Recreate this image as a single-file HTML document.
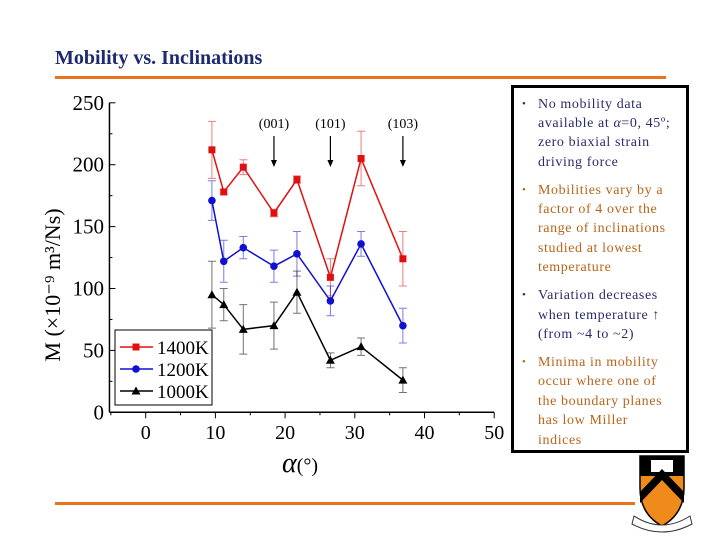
<!DOCTYPE html>
<html><head><meta charset="utf-8"><style>
body{margin:0;width:720px;height:540px;background:#fff;position:relative;overflow:hidden;font-family:"Liberation Serif",serif}
#title{position:absolute;left:55px;top:47px;font-size:20px;font-weight:bold;color:#1c2a6e}
.rule{position:absolute;background:#e8731e;height:3px}
#box{position:absolute;left:511px;top:85px;width:172px;height:362px;border:3px solid #000;background:#fff}
#box ul{margin:0;padding:0;list-style:none}
#box li{position:relative;padding-left:24px;font-size:14px;line-height:19.4px;margin-top:8.5px;letter-spacing:0.6px;white-space:nowrap}
#box li:before{content:"•";position:absolute;left:8px;font-size:11px}
.n{color:#2b2b6b}.o{color:#b8651a}
</style></head><body>
<div id="title">Mobility vs. Inclinations</div>
<div class="rule" style="left:55px;top:76px;width:611px"></div>
<div class="rule" style="left:55px;top:502px;width:580px"></div>
<svg id="chart" width="720" height="540" style="position:absolute;left:0;top:0"></svg>
<div id="box"><ul style="margin-top:-2px">
<li class="n">No mobility data<br>available at <i>α</i>=0, 45º;<br>zero biaxial strain<br>driving force</li>
<li class="o">Mobilities vary by a<br>factor of 4 over the<br>range of inclinations<br>studied at lowest<br>temperature</li>
<li class="n">Variation decreases<br>when temperature ↑<br>(from ~4 to ~2)</li>
<li class="o">Minima in mobility<br>occur where one of<br>the boundary planes<br>has low Miller<br>indices</li>
</ul></div>
<svg width="90" height="90" style="position:absolute;left:628px;top:448px">
<path d="M12,8 L56,8 L56,40 Q56,66 34,78 Q12,66 12,40 Z" fill="#f08a1a" stroke="#000" stroke-width="1.5"/>
<path d="M12,8 L56,8 L56,28 L12,28 Z" fill="#000"/>
<rect x="23" y="12" width="22" height="12" fill="#fff"/>
<path d="M12,55 L34,32 L56,55 L56,44 L34,21 L12,44 Z" fill="#000"/>
<path d="M6,68 Q34,86 62,68 L64,76 Q34,92 4,76 Z" fill="#fff" stroke="#333" stroke-width="1"/>
</svg>
<script>
const xs=[9.5,11.2,14.0,18.4,21.7,26.5,30.9,36.9];
const red=[212,178,198,161,188,109,205,124];
const redErr=[23,2,6,3,3,15,22,22];
const blue=[171,122,133,118,128,90,136,70];
const blueErr=[16,17,9,13,18,12,10,14];
const black=[95,87,67,70,97,42,53,26];
const blackErr=[27,13,20,19,17,6,7,10];
const xTicks=[0,10,20,30,40,50];
const yTicks=[0,50,100,150,200,250];
const arrows=[{a:18.4,l:"(001)"},{a:26.5,l:"(101)"},{a:36.9,l:"(103)"}];
const svg=document.getElementById('chart');
const NS='http://www.w3.org/2000/svg';
const X=v=>145.7+v*6.97, Y=v=>412.3-v*1.238;
function mk(t,a,p){const e=document.createElementNS(NS,t);for(const k in a)e.setAttribute(k,a[k]);(p||svg).appendChild(e);return e;}
let ax=mk('line',{x1:X(-5.2),y1:Y(0),x2:X(50),y2:Y(0),stroke:'#000','stroke-width':1.5});

let ay=mk('line',{x1:X(-5.2),y1:Y(0),x2:X(-5.2),y2:Y(250),stroke:'#000','stroke-width':1.5});

for(let v=-5;v<=50;v+=5){mk('line',{x1:X(v),y1:Y(0),x2:X(v),y2:Y(0)+(v%10==0?6:3),stroke:'#000'});}
xTicks.forEach(v=>{let t=mk('text',{x:X(v),y:439,'font-size':20,'text-anchor':'middle','font-family':'Liberation Serif'});t.textContent=v;
});
for(let v=0;v<=250;v+=25){mk('line',{x1:X(-5.2),y1:Y(v),x2:X(-5.2)+(v%50==0?6:3),y2:Y(v),stroke:'#000'});}
yTicks.forEach(v=>{let t=mk('text',{x:104,y:Y(v)+7,'font-size':21,'text-anchor':'end','font-family':'Liberation Serif'});t.textContent=v;
});
let xl=mk('text',{x:300,y:472,'font-size':28,'text-anchor':'middle','font-family':'Liberation Serif'});xl.innerHTML='<tspan font-style="italic">α</tspan><tspan font-size="20">(°)</tspan>';

let yl=mk('text',{x:0,y:0,'font-size':22,'text-anchor':'middle','font-family':'Liberation Serif',transform:'translate(60,285) rotate(-90)'});yl.textContent='M (×10⁻⁹ m³/Ns)';

arrows.forEach(a=>{let t=mk('text',{x:X(a.a),y:128,'font-size':14,'text-anchor':'middle','font-family':'Liberation Serif'});t.textContent=a.l;

let l=mk('line',{x1:X(a.a),y1:136,x2:X(a.a),y2:164,stroke:'#000','stroke-width':1.2});

mk('path',{d:`M${X(a.a)-3},160 L${X(a.a)+3},160 L${X(a.a)},167 Z`,fill:'#000'});});
function series(vals,errs,col,shape,name){
 const g=mk('g',{});
 vals.forEach((v,i)=>{let e=mk('path',{d:`M${X(xs[i])},${Y(v-errs[i])}V${Y(v+errs[i])}M${X(xs[i])-4},${Y(v-errs[i])}h8M${X(xs[i])-4},${Y(v+errs[i])}h8`,stroke:col,'stroke-opacity':0.55,fill:'none'},g);
 });
 let p=mk('polyline',{points:vals.map((v,i)=>X(xs[i])+','+Y(v)).join(' '),fill:'none',stroke:col,'stroke-width':1.5},g);
 
 vals.forEach((v,i)=>{let m=marker(X(xs[i]),Y(v),col,shape,g);});
}
function marker(x,y,col,shape,g){
 if(shape=='s')return mk('rect',{x:x-3.5,y:y-3.5,width:7,height:7,fill:col},g);
 if(shape=='c')return mk('circle',{cx:x,cy:y,r:3.8,fill:col},g);
 return mk('path',{d:`M${x},${y-4.5}L${x+4.5},${y+3.5}L${x-4.5},${y+3.5}Z`,fill:col},g);
}
series(red,redErr,'#e01010','s','series-1400k');
series(blue,blueErr,'#1010d0','c','series-1200k');
series(black,blackErr,'#000','t','series-1000k');
const lg=mk('g',{});
mk('rect',{x:115,y:330,width:97,height:75,fill:'#fff',stroke:'#000'},lg);
[['1400K','#e01010','s'],['1200K','#1010d0','c'],['1000K','#000','t']].forEach((d,i)=>{
 const y=347+i*22;const it=mk('g',{},lg);
 mk('line',{x1:120,y1:y,x2:153,y2:y,stroke:d[1],'stroke-width':1.5},it);marker(136,y,d[1],d[2],it);
 const t=mk('text',{x:157,y:y+7,'font-size':19,'font-family':'Liberation Serif'},it);t.textContent=d[0];});
</script>
</body></html>
